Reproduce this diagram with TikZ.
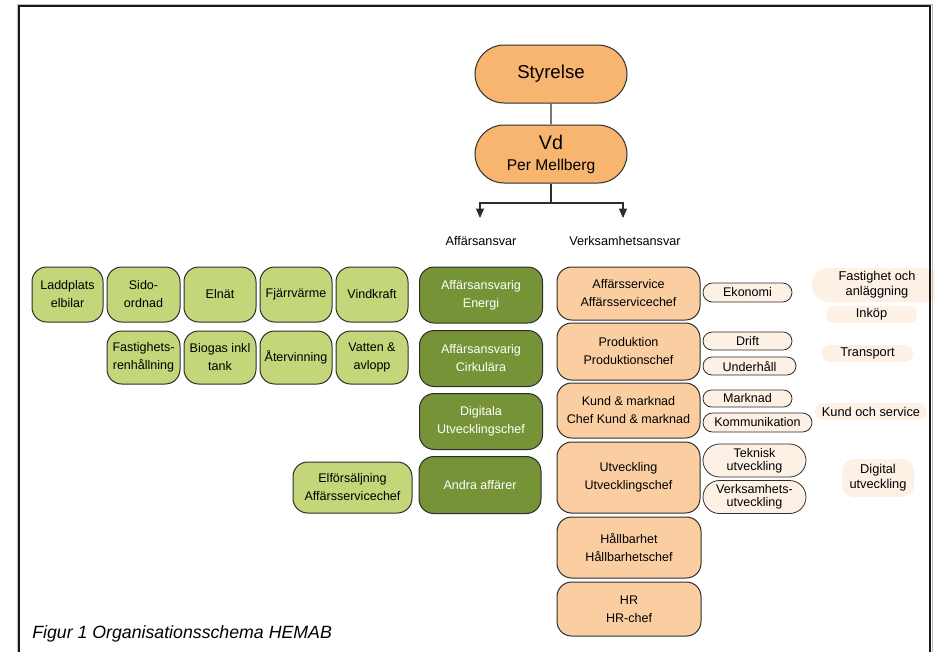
\documentclass[tikz,border=0pt]{standalone}
\usepackage{fontspec}
\setmainfont{Liberation Sans}
\usetikzlibrary{arrows.meta,shapes.misc}

\definecolor{toporange}{RGB}{247,181,112}
\definecolor{liteorange}{RGB}{250,206,160}
\definecolor{darkgreen}{RGB}{119,147,55}
\definecolor{litegreen}{RGB}{195,214,122}
\definecolor{paleorange}{RGB}{253,240,229}
\definecolor{edgegray}{RGB}{45,45,45}

\begin{document}
\begin{tikzpicture}[
  x=0.75pt, y=-0.75pt,
  wh/.style 2 args={minimum width=#1*0.75pt, minimum height=#2*0.75pt},
  box/.style={draw=edgegray, line width=0.75pt, rounded corners=11pt, align=center, inner sep=0pt, font=\fontsize{9.4}{13.5}\selectfont},
  topbox/.style={rounded rectangle, draw=edgegray, line width=0.75pt, fill=toporange, wh={152}{58}, align=center, inner sep=0pt},
  lgbox/.style={box, fill=litegreen},
  dgbox/.style={box, fill=darkgreen, text=white, wh={123}{56}},
  orbox/.style={box, fill=liteorange},
  pill/.style={rounded rectangle, draw=edgegray, line width=0.6pt, fill=paleorange, inner sep=0pt, align=center, font=\fontsize{9.4}{10}\selectfont},
  tag/.style={rounded rectangle, fill=paleorange, inner sep=0pt, align=center, font=\fontsize{9.6}{11}\selectfont},
  lbl/.style={font=\fontsize{9.5}{11}\selectfont}
]

\useasboundingbox (0,0) rectangle (935,651);

\node [topbox, font=\fontsize{14}{15}\selectfont] (sty) at (551,74) {Styrelse};
\node [topbox, font=\fontsize{11.7}{15.75}\selectfont] (vd) at (551,154) {{\fontsize{14.8}{15.75}\selectfont Vd}\\Per Mellberg};

\node [lbl] (affar) at (481,241) {Affärsansvar};
\node [lbl] (verk) at (625,241) {Verksamhetsansvar};

\coordinate (split) at (551,203);
\coordinate (affartop) at (480,218);
\coordinate (verktop) at (623,218);
\draw [edgegray, line width=0.8pt] (sty) -- (vd);
\draw [edgegray, line width=0.8pt, -{Triangle[width=6pt,length=7pt]}] (vd.south) -- (split) -| (affartop);
\draw [edgegray, line width=0.8pt, -{Triangle[width=6pt,length=7pt]}] (split) -| (verktop);

\node [dgbox] (energi) at (481,295) {Affärsansvarig\\Energi};
\node [dgbox] (cirk) at (481,358.5) {Affärsansvarig\\Cirkulära};
\node [dgbox] (digi) at (481,421.5) {Digitala\\Utvecklingschef};
\node [dgbox, wh={122}{57}] (andra) at (480,485) {Andra affärer};

\node [lgbox, wh={71}{55}] (ladd) at (67.5,294.5) {Laddplats\\elbilar};
\node [lgbox, wh={73}{55}] (sido) at (143.5,294.5) {Sido-\\ordnad};
\node [lgbox, wh={72}{55}] (elnat) at (220,294.5) {Elnät};
\node [lgbox, wh={72}{55}] (fjarr) at (296,294.5) {Fjärrvärme};
\node [lgbox, wh={72}{55}] (vind) at (372,294.5) {Vindkraft};
\node [lgbox, wh={73}{53}] (fastren) at (143.5,357.5) {Fastighets-\\renhållning};
\node [lgbox, wh={72}{53}] (biogas) at (220,357.5) {Biogas inkl\\tank};
\node [lgbox, wh={72}{53}] (aterv) at (296,357.5) {Återvinning};
\node [lgbox, wh={72}{53}] (vatten) at (372,357.5) {Vatten \&\\avlopp};
\node [lgbox, wh={119}{51}] (elfors) at (352.5,487.5) {Elförsäljning\\Affärsservicechef};

\node [orbox, wh={143}{53}] (aserv) at (628.5,293.5) {Affärsservice\\Affärsservicechef};
\node [orbox, wh={143}{57}] (prod) at (628.5,351.5) {Produktion\\Produktionschef};
\node [orbox, wh={143}{55}] (kund) at (628.5,410.5) {Kund \& marknad\\Chef Kund \& marknad};
\node [orbox, wh={143}{71}] (utv) at (628.5,477.5) {Utveckling\\Utvecklingschef};
\node [orbox, wh={144}{61}] (hall) at (629,547.5) {Hållbarhet\\Hållbarhetschef};
\node [orbox, wh={144}{54}] (hr) at (629,609) {HR\\HR-chef};

\node [pill, wh={89}{19}] (ekon) at (747.5,292.5) {Ekonomi};
\node [pill, wh={89}{18}] (drift) at (747.5,341) {Drift};
\node [pill, wh={93}{18}] (underh) at (749.5,366) {Underhåll};
\node [pill, wh={89}{17}] (markn) at (747.5,398.5) {Marknad};
\node [pill, wh={109}{19}] (komm) at (757.5,422.5) {Kommunikation};
\node [pill, wh={103}{33}] (tekn) at (754.5,460.5) {Teknisk\\utveckling};
\node [pill, wh={103}{33}] (verks) at (754.5,497) {Verksamhets-\\utveckling};

\node [tag, wh={130}{34}] (fastanl) at (877,285) {Fastighet och\\anläggning};
\node [tag, wh={91}{17}] (inkop) at (871.5,314.5) {Inköp};
\node [tag, wh={91}{17}] (transp) at (867.5,353.5) {Transport};
\node [tag, wh={112}{17}] (kundserv) at (871,411.5) {Kund och service};
\node [tag, rectangle, rounded corners=9pt, wh={72}{38}] (digutv) at (878,478) {Digital\\utveckling};

\node [anchor=west, inner sep=0pt, font=\itshape\fontsize{13.3}{14}\selectfont] (caption) at (32,634) {Figur 1 Organisationsschema HEMAB};

\draw [gray!50, line width=0.6pt] (17,660) -- (17,4) -- (932,4) -- (932,660);
\draw [black!90, line width=1.5pt] (19,660) -- (19,6) -- (930,6) -- (930,660);

\end{tikzpicture}
\end{document}
